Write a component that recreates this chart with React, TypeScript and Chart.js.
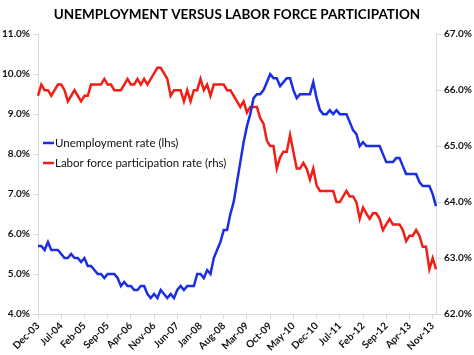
import React, { useEffect, useRef } from "react";
import { Chart, registerables } from "chart.js";

Chart.register(...registerables);

const TITLE = "UNEMPLOYMENT VERSUS LABOR FORCE PARTICIPATION";
const MONTHS = ["Jan", "Feb", "Mar", "Apr", "May", "Jun", "Jul", "Aug", "Sep", "Oct", "Nov", "Dec"];
// Monthly categories Dec-03 .. Dec-13
const CATEGORIES: string[] = [];
for (let y = 2003; y <= 2013; y++) {
  for (let m = 0; m < 12; m++) {
    if (y === 2003 && m < 11) continue;
    CATEGORIES.push(`${MONTHS[m]}-${String(y).slice(2)}`);
  }
}
const TICK_EVERY = 7;

const UNEMPLOYMENT = [
  5.7,
  5.7, 5.6, 5.8, 5.6, 5.6, 5.6, 5.5, 5.4, 5.4, 5.5, 5.4, 5.4,
  5.3, 5.4, 5.2, 5.2, 5.1, 5.0, 5.0, 4.9, 5.0, 5.0, 5.0, 4.9,
  4.7, 4.8, 4.7, 4.7, 4.6, 4.6, 4.7, 4.7, 4.5, 4.4, 4.5, 4.4,
  4.6, 4.5, 4.4, 4.5, 4.4, 4.6, 4.7, 4.6, 4.7, 4.7, 4.7, 5.0,
  5.0, 4.9, 5.1, 5.0, 5.4, 5.6, 5.8, 6.1, 6.1, 6.5, 6.8, 7.3,
  7.8, 8.3, 8.7, 9.0, 9.4, 9.5, 9.5, 9.6, 9.8, 10.0, 9.9, 9.9,
  9.7, 9.8, 9.9, 9.9, 9.6, 9.4, 9.5, 9.5, 9.5, 9.5, 9.8, 9.4,
  9.1, 9.0, 9.0, 9.1, 9.0, 9.1, 9.0, 9.0, 9.0, 8.8, 8.6, 8.5,
  8.2, 8.3, 8.2, 8.2, 8.2, 8.2, 8.2, 8.0, 7.8, 7.8, 7.8, 7.9,
  7.9, 7.7, 7.5, 7.5, 7.5, 7.5, 7.3, 7.2, 7.2, 7.2, 7.0, 6.7,
];

const PARTICIPATION = [
  65.9,
  66.1, 66.0, 66.0, 65.9, 66.0, 66.1, 66.1, 66.0, 65.8, 65.9, 66.0, 65.9,
  65.8, 65.9, 65.9, 66.1, 66.1, 66.1, 66.1, 66.2, 66.1, 66.1, 66.0, 66.0,
  66.0, 66.1, 66.2, 66.1, 66.1, 66.2, 66.1, 66.2, 66.1, 66.2, 66.3, 66.4,
  66.4, 66.3, 66.2, 65.9, 66.0, 66.0, 66.0, 65.8, 66.0, 65.8, 66.0, 66.0,
  66.2, 66.0, 66.1, 65.9, 66.1, 66.1, 66.1, 66.1, 66.0, 66.0, 65.9, 65.8,
  65.7, 65.8, 65.6, 65.7, 65.7, 65.7, 65.5, 65.4, 65.1, 65.0, 65.0, 64.6,
  64.8, 64.9, 64.9, 65.2, 64.9, 64.6, 64.6, 64.7, 64.6, 64.4, 64.6, 64.3,
  64.2, 64.2, 64.2, 64.2, 64.2, 64.0, 64.0, 64.1, 64.2, 64.1, 64.1, 64.0,
  63.7, 63.9, 63.8, 63.7, 63.8, 63.8, 63.7, 63.5, 63.6, 63.7, 63.6, 63.6,
  63.6, 63.5, 63.3, 63.4, 63.4, 63.5, 63.4, 63.2, 63.2, 62.8, 63.0, 62.8,
];

const SERIES_LABELS = ["Unemployment rate (lhs)", "Labor force participation rate (rhs)"];
const COLORS = ["#1a2ee6", "#f01e14"];
const LEFT_RANGE = [4, 11];
const RIGHT_RANGE = [62, 67];

const FONT = "Lato, 'Open Sans', sans-serif";
const AXIS_COLOR = "#d9d9d9";

const legendPlugin = {
  id: "insideLegend",
  afterDraw(chart: any) {
    const ctx = chart.ctx;
    const x0 = chart.chartArea.left + 5;
    const ys = [143, 163];
    ctx.save();
    ctx.font = `11.5px ${FONT}`;
    ctx.textBaseline = "middle";
    ctx.textAlign = "left";
    chart.data.datasets.forEach((ds: any, i: number) => {
      const y = ys[i];
      ctx.strokeStyle = ds.borderColor;
      ctx.lineWidth = 2.5;
      ctx.beginPath();
      ctx.moveTo(x0, y);
      ctx.lineTo(x0 + 11, y);
      ctx.stroke();
      ctx.fillStyle = "#111";
      ctx.fillText(ds.label, x0 + 12, y + 0.5);
    });
    ctx.restore();
  },
};

export default function App() {
  const ref = useRef<HTMLCanvasElement | null>(null);
  useEffect(() => {
    document.body.style.margin = "0";
    if (!ref.current) return;
    const chart = new Chart(ref.current, {
      type: "line",
      data: {
        labels: CATEGORIES,
        datasets: [
          {
            label: SERIES_LABELS[0],
            data: UNEMPLOYMENT,
            borderColor: COLORS[0],
            backgroundColor: COLORS[0],
            borderWidth: 2.5,
            pointRadius: 0,
            tension: 0,
            yAxisID: "y",
          },
          {
            label: SERIES_LABELS[1],
            data: PARTICIPATION,
            borderColor: COLORS[1],
            backgroundColor: COLORS[1],
            borderWidth: 2.5,
            pointRadius: 0,
            tension: 0,
            yAxisID: "y1",
          },
        ],
      },
      options: {
        responsive: false,
        animation: false,
        layout: { padding: 0 },
        plugins: {
          legend: { display: false },
          tooltip: { enabled: false },
          title: {
            display: true,
            text: TITLE,
            color: "#000",
            font: { family: FONT, weight: "bold", size: 13.5, lineHeight: 1.2 },
            padding: { top: 7, bottom: 11 },
          },
        },
        scales: {
          x: {
            offset: false,
            border: { display: true, color: AXIS_COLOR },
            grid: { display: true, drawOnChartArea: false, drawTicks: true, tickLength: 5, color: AXIS_COLOR },
            ticks: {
              autoSkip: false,
              minRotation: 45,
              maxRotation: 45,
              padding: 1,
              color: "#111",
              font: { family: FONT, weight: "bold", size: 10 },
              callback: function (this: any, value: any, index: number) {
                return index % TICK_EVERY === 0 ? this.getLabelForValue(value) : null;
              },
            },
            afterFit(scale: any) {
              scale.height = 41;
            },
          },
          y: {
            position: "left",
            min: LEFT_RANGE[0],
            max: LEFT_RANGE[1],
            border: { display: true, color: AXIS_COLOR },
            grid: { display: true, drawOnChartArea: false, drawTicks: true, tickLength: 5, color: AXIS_COLOR },
            ticks: {
              stepSize: 1,
              padding: 3,
              color: "#111",
              font: { family: FONT, weight: "bold", size: 10 },
              callback: (v: any) => Number(v).toFixed(1) + "%",
            },
            afterFit(scale: any) {
              scale.width = 38;
            },
          },
          y1: {
            position: "right",
            min: RIGHT_RANGE[0],
            max: RIGHT_RANGE[1],
            border: { display: true, color: AXIS_COLOR },
            grid: { display: true, drawOnChartArea: false, drawTicks: true, tickLength: 5, color: AXIS_COLOR },
            ticks: {
              stepSize: 1,
              padding: 3,
              color: "#111",
              font: { family: FONT, weight: "bold", size: 10 },
              callback: (v: any) => Number(v).toFixed(1) + "%",
            },
            afterFit(scale: any) {
              scale.width = 38;
            },
          },
        },
      },
      plugins: [legendPlugin],
    } as any);
    return () => chart.destroy();
  }, []);
  return (
    <div style={{ width: 474, height: 355 }}>
      <canvas ref={ref} width={474} height={355} />
    </div>
  );
}
